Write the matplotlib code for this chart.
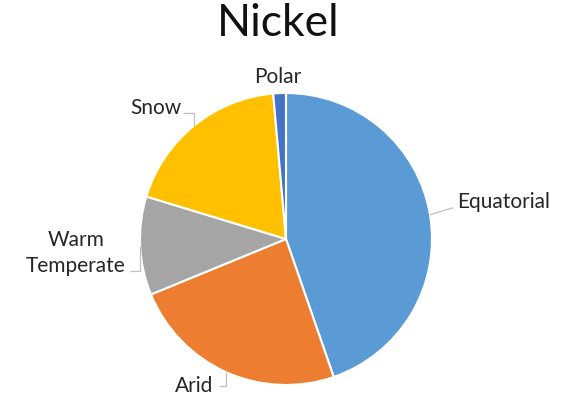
import numpy as np
import matplotlib.pyplot as plt

plt.rcParams["font.family"] = ["Lato", "DejaVu Sans"]

climates = ["Equatorial", "Arid", "Warm\nTemperate", "Snow", "Polar"]
shares = [44.7, 24.1, 10.9, 18.9, 1.4]
colors = ["#5B9BD5", "#ED7D31", "#A5A5A5", "#FFC000", "#4472C4"]

# where each label sits (text anchor) and where its leader line ends
label_pos = [(1.171, 0.253), (-0.63, -1.01), (-1.438, -0.096), (-0.89, 0.897), (-0.055, 1.11)]
label_ha = ["left", "center", "center", "center", "center"]
leader_end = [(1.147, 0.212), (-0.459, -1.007), (-1.068, -0.219), (-0.705, 0.863), None]

fig = plt.figure(figsize=(5.69, 4.0), dpi=100)
ax = fig.add_axes([0, 0, 1, 1])

wedges, _ = ax.pie(
    shares,
    colors=colors,
    startangle=90,
    counterclock=False,
    radius=1.0,
    wedgeprops=dict(edgecolor="white", linewidth=1.5),
)

for w, name, pos, ha, end in zip(wedges, climates, label_pos, label_ha, leader_end):
    ax.text(pos[0], pos[1], name, ha=ha, va="center", fontsize=15,
            color="#262626", linespacing=1.4)
    if end is None:
        continue
    mid = np.deg2rad((w.theta1 + w.theta2) / 2)
    px, py = np.cos(mid), np.sin(mid)
    if name == "Equatorial":
        xs = [px, end[0] - 0.01, end[0]]
        ys = [py, end[1], end[1]]
    else:
        xs = [px, px, end[0]]
        ys = [py, end[1], end[1]]
    ax.plot(xs, ys, color="#BFBFBF", linewidth=0.9, solid_capstyle="butt")

ax.text(-0.055, 1.479, "Nickel", ha="center", va="center", fontsize=32, color="#111111")

# 146 px per unit, pie centre at (286, 239) px
ax.set_xlim(-286 / 146, (569 - 286) / 146)
ax.set_ylim(-(400 - 239) / 146, 239 / 146)
ax.set_aspect("equal")
ax.axis("off")

fig.savefig("out.png", dpi=100)
